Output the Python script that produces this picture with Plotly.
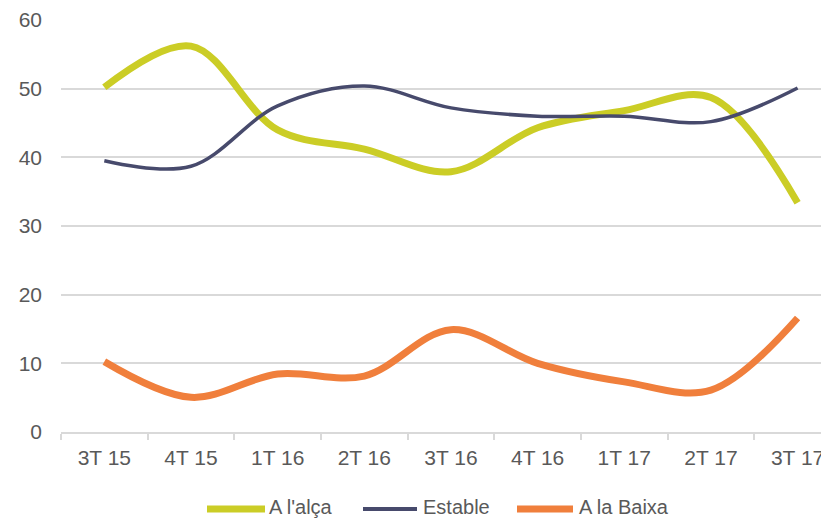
import plotly.graph_objects as go

categories = ["3T 15", "4T 15", "1T 16", "2T 16", "3T 16", "4T 16", "1T 17", "2T 17", "3T 17"]
alca = [50.2, 56.2, 44.0, 41.2, 37.9, 44.3, 46.8, 48.7, 33.4]
estable = [39.5, 38.7, 47.5, 50.4, 47.2, 46.0, 46.0, 45.2, 50.1]
baixa = [10.25, 5.05, 8.45, 8.15, 14.9, 10.0, 7.3, 6.1, 16.6]
yticks = [0, 10, 20, 30, 40, 50, 60]

series = [
    ("A l'alça", alca, "#CBCD26", 7),
    ("Estable", estable, "#474A6C", 3.5),
    ("A la Baixa", baixa, "#F07F3C", 7),
]

FONT = "Liberation Sans, Arial, sans-serif"
W, H = 821, 519
L, R, T, B = 61, 0, 20, 87
pw, ph = W - L - R, H - T - B

fig = go.Figure()
for name, vals, color, width in series:
    fig.add_trace(go.Scatter(x=categories, y=vals, name=name, mode="lines",
                             line=dict(color=color, width=width, shape="spline", smoothing=1),
                             showlegend=False))

# manual legend (long line symbols like the original)
def px2x(px):
    return (px - L) / pw

def py2y(py):
    return (H - B - py) / ph

legend_items = [(207, 265, 267), (363, 417, 421), (517, 573, 577)]
for (name, vals, color, width), (x0, x1, tx) in zip(series, legend_items):
    fig.add_shape(type="line", xref="paper", yref="paper",
                  x0=px2x(x0), x1=px2x(x1), y0=py2y(509), y1=py2y(509),
                  line=dict(color=color, width=width if width > 5 else 4))
    fig.add_annotation(xref="paper", yref="paper", x=px2x(tx), y=py2y(507),
                       xanchor="left", yanchor="middle", text=name, showarrow=False,
                       font=dict(family=FONT, size=20, color="#595959"))

fig.update_layout(
    width=W, height=H,
    margin=dict(l=L, r=R, t=T, b=B),
    paper_bgcolor="white", plot_bgcolor="white",
    font=dict(family=FONT, size=21, color="#595959"),
    showlegend=False,
    xaxis=dict(type="category", range=[-0.5, 8.27], showgrid=False, automargin=False,
               showline=True, linecolor="#D9D9D9", linewidth=1.5,
               ticks="outside", tickcolor="#D9D9D9", ticklen=6, tickwidth=1.5,
               tickson="boundaries", ticklabelstandoff=6,
               tickfont=dict(size=21, color="#595959"), zeroline=False),
    yaxis=dict(range=[0, 60], tickvals=yticks, showgrid=True, gridcolor="#D9D9D9",
               gridwidth=1.5, zeroline=False, showline=False, ticks="", automargin=False,
               ticklabelstandoff=18,
               tickfont=dict(size=21, color="#595959")),
)
fig.write_html("out.html", config={"displayModeBar": False},
               post_script="document.body.style.margin='0';document.body.style.overflow='hidden';")
